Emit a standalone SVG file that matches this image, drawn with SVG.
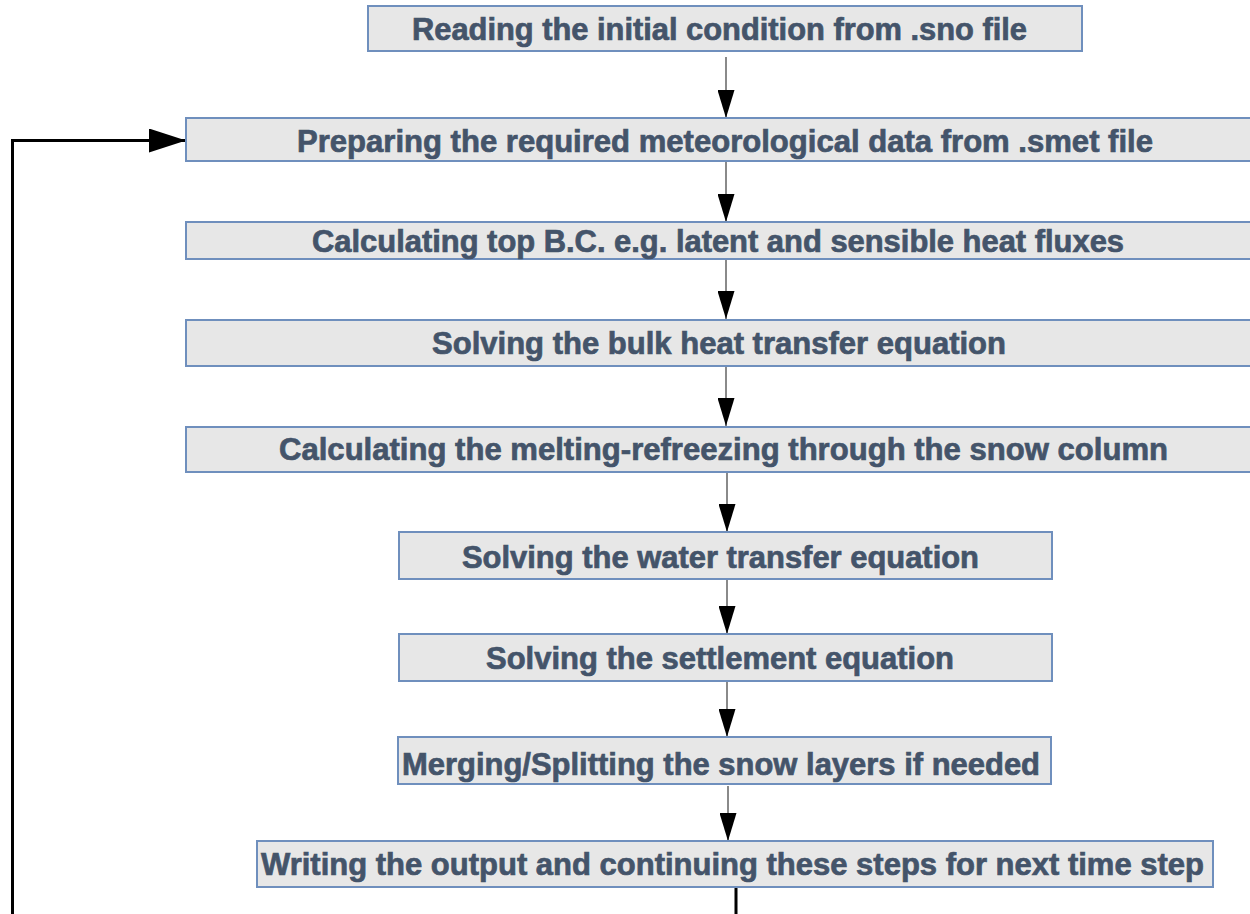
<svg xmlns="http://www.w3.org/2000/svg" width="1250" height="914" viewBox="0 0 1250 914">
  <style>
    .box { fill: #e7e7e7; stroke: #6f8fbd; stroke-width: 2; }
    .lbl { font-family: "Liberation Sans", Arial, sans-serif; font-weight: bold; font-size: 31px; fill: #44546a; stroke: #44546a; stroke-width: 0.7; }
    .flow { fill: none; stroke: #8a8a8a; stroke-width: 2; }
    .loop { fill: none; stroke: #000000; stroke-width: 3; }
  </style>
  <defs>
    <!-- down-arrow head: 28 long, 17 wide -->
    <marker id="head" markerUnits="userSpaceOnUse" markerWidth="28" markerHeight="17" refX="28" refY="8.5" orient="auto" viewBox="0 0 28 17">
      <path d="M0,0 L28,8.5 L0,17 Z" fill="#000"/>
    </marker>
    <!-- loop-back arrow head: 37 long, 24 wide -->
    <marker id="headBig" markerUnits="userSpaceOnUse" markerWidth="37" markerHeight="24" refX="37" refY="12" orient="auto" viewBox="0 0 37 24">
      <path d="M0,0 L37,12 L0,24 Z" fill="#000"/>
    </marker>
  </defs>

  <rect width="1250" height="914" fill="#ffffff"/>

  <g id="connectors">
    <line class="flow" x1="726" y1="57" x2="726" y2="118" marker-end="url(#head)"/>
    <line class="flow" x1="726" y1="162" x2="726" y2="222" marker-end="url(#head)"/>
    <line class="flow" x1="726" y1="260" x2="726" y2="319" marker-end="url(#head)"/>
    <line class="flow" x1="726" y1="367" x2="726" y2="426" marker-end="url(#head)"/>
    <line class="flow" x1="727" y1="473" x2="727" y2="532" marker-end="url(#head)"/>
    <line class="flow" x1="727" y1="580" x2="727" y2="634" marker-end="url(#head)"/>
    <line class="flow" x1="727" y1="682" x2="727" y2="737" marker-end="url(#head)"/>
    <line class="flow" x1="728" y1="786" x2="728" y2="841" marker-end="url(#head)"/>
    <path class="loop" d="M736,888 V915.5 H12.5 V140.5 H186" marker-end="url(#headBig)"/>
  </g>

  <g id="n1">
    <rect class="box" x="368" y="6" width="714" height="45"/>
    <text class="lbl" x="412" y="40" textLength="615" lengthAdjust="spacingAndGlyphs">Reading the initial condition from .sno file</text>
  </g>
  <g id="n2">
    <rect class="box" x="186" y="118" width="1070" height="43"/>
    <text class="lbl" x="297" y="152" textLength="856" lengthAdjust="spacingAndGlyphs">Preparing the required meteorological data from .smet file</text>
  </g>
  <g id="n3">
    <rect class="box" x="186" y="222" width="1070" height="37"/>
    <text class="lbl" x="312" y="252" textLength="812" lengthAdjust="spacingAndGlyphs">Calculating top B.C. e.g. latent and sensible heat fluxes</text>
  </g>
  <g id="n4">
    <rect class="box" x="186" y="320" width="1070" height="46"/>
    <text class="lbl" x="432" y="354" textLength="574" lengthAdjust="spacingAndGlyphs">Solving the bulk heat transfer equation</text>
  </g>
  <g id="n5">
    <rect class="box" x="186" y="427" width="1070" height="45"/>
    <text class="lbl" x="279" y="460" textLength="889" lengthAdjust="spacingAndGlyphs">Calculating the melting-refreezing through the snow column</text>
  </g>
  <g id="n6">
    <rect class="box" x="399" y="532" width="653" height="47"/>
    <text class="lbl" x="462" y="568" textLength="517" lengthAdjust="spacingAndGlyphs">Solving the water transfer equation</text>
  </g>
  <g id="n7">
    <rect class="box" x="399" y="634" width="653" height="47"/>
    <text class="lbl" x="486" y="669" textLength="468" lengthAdjust="spacingAndGlyphs">Solving the settlement equation</text>
  </g>
  <g id="n8">
    <rect class="box" x="398" y="737" width="653" height="47"/>
    <text class="lbl" x="402" y="775" textLength="638" lengthAdjust="spacingAndGlyphs">Merging/Splitting the snow layers if needed</text>
  </g>
  <g id="n9">
    <rect class="box" x="257" y="841" width="956" height="46"/>
    <text class="lbl" x="261" y="875" textLength="943" lengthAdjust="spacingAndGlyphs">Writing the output and continuing these steps for next time step</text>
  </g>
</svg>
